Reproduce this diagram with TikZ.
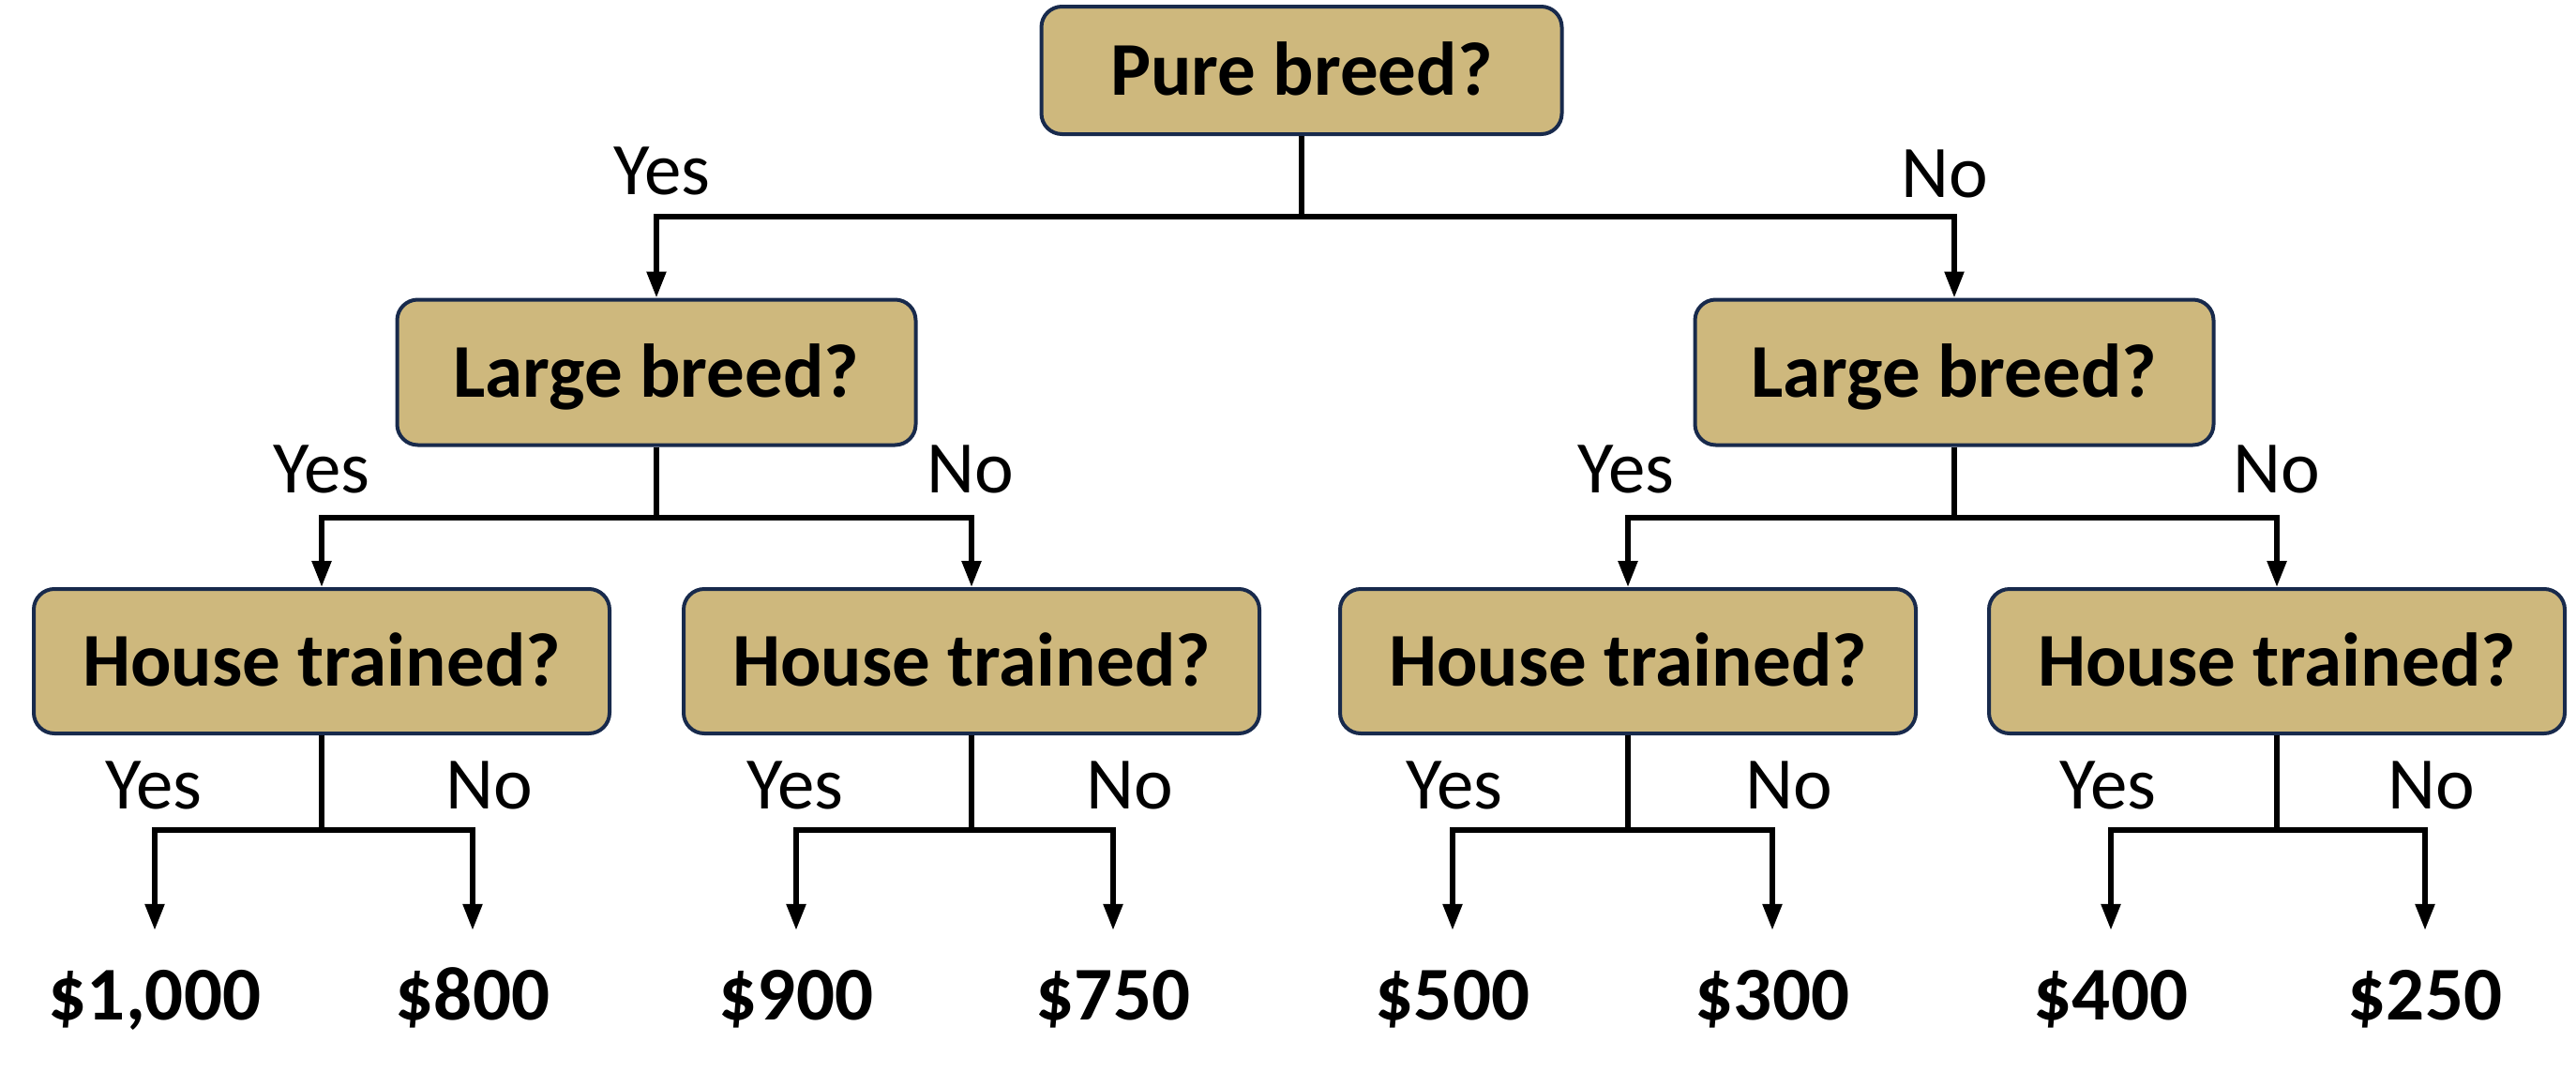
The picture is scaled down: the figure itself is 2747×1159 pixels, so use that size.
\documentclass[tikz,border=0pt]{standalone}
\usepackage{fontspec}
\setmainfont{Carlito}
\usetikzlibrary{arrows.meta}
\definecolor{boxfill}{RGB}{206,184,125}
\definecolor{boxline}{RGB}{24,42,76}
\begin{document}
\begin{tikzpicture}[x=1pt,y=-1pt,
  qbox/.style={draw=boxline, line width=4pt, fill=boxfill, rounded corners=22pt,
    inner sep=0pt, text height=52pt, text depth=0pt,
    font=\fontsize{81}{97}\selectfont\bfseries},
  lbl/.style={anchor=base, inner sep=0pt, font=\fontsize{79}{95}\selectfont},
  leaf/.style={anchor=base, inner sep=0pt, text height=52pt, text depth=0pt,
    font=\fontsize{81}{97}\selectfont\bfseries},
  link/.style={line width=5.5pt},
  arr/.style={line width=5.5pt, -{Triangle[length=28pt,width=20pt]}},
  leafarr/.style={arr, shorten >=43pt}]
\useasboundingbox (0,0) rectangle (2747,1159);

% question boxes
\node[qbox, minimum width=555pt, minimum height=136pt] (root) at (1388,75) {Pure breed?};
\node[qbox, minimum width=553pt, minimum height=155pt] (L) at (700,397) {Large breed?};
\node[qbox, minimum width=553pt, minimum height=155pt] (R) at (2084,397) {Large breed?};
\node[qbox, minimum width=614pt, minimum height=154pt] (H1) at (343,705) {House trained?};
\node[qbox, minimum width=614pt, minimum height=154pt] (H2) at (1036,705) {House trained?};
\node[qbox, minimum width=614pt, minimum height=154pt] (H3) at (1736,705) {House trained?};
\node[qbox, minimum width=614pt, minimum height=154pt] (H4) at (2428,705) {House trained?};

% leaves
\node[leaf] (v1) at (165,1087) {\$1,000};
\node[leaf] (v2) at (504,1087) {\$800};
\node[leaf] (v3) at (849,1087) {\$900};
\node[leaf] (v4) at (1187,1087) {\$750};
\node[leaf] (v5) at (1549,1087) {\$500};
\node[leaf] (v6) at (1890,1087) {\$300};
\node[leaf] (v7) at (2251,1087) {\$400};
\node[leaf] (v8) at (2586,1087) {\$250};

% junctions
\coordinate (j0) at (1388,231);
\coordinate (jL) at (700,552);
\coordinate (jR) at (2084,552);
\coordinate (j1) at (343,885);
\coordinate (j2) at (1036,885);
\coordinate (j3) at (1736,885);
\coordinate (j4) at (2428,885);

% connectors
\draw[link] (root.south) -- (j0);
\draw[arr] (j0) -| (L.north);
\draw[arr] (j0) -| (R.north);

\draw[link] (L.south) -- (jL);
\draw[arr] (jL) -| (H1.north);
\draw[arr] (jL) -| (H2.north);
\draw[link] (R.south) -- (jR);
\draw[arr] (jR) -| (H3.north);
\draw[arr] (jR) -| (H4.north);

\draw[link] (H1.south) -- (j1);
\draw[leafarr] (j1) -| (v1.north);
\draw[leafarr] (j1) -| (v2.north);
\draw[link] (H2.south) -- (j2);
\draw[leafarr] (j2) -| (v3.north);
\draw[leafarr] (j2) -| (v4.north);
\draw[link] (H3.south) -- (j3);
\draw[leafarr] (j3) -| (v5.north);
\draw[leafarr] (j3) -| (v6.north);
\draw[link] (H4.south) -- (j4);
\draw[leafarr] (j4) -| (v7.north);
\draw[leafarr] (j4) -| (v8.north);

% branch labels
\node[lbl] (y0) at (706,207) {Yes};
\node[lbl] (n0) at (2074,210) {No};
\node[lbl] (yL) at (343,525) {Yes};
\node[lbl] (nL) at (1035,525) {No};
\node[lbl] (yR) at (1734,525) {Yes};
\node[lbl] (nR) at (2428,525) {No};
\node[lbl] (y1) at (164,862) {Yes};
\node[lbl] (n1) at (522,862) {No};
\node[lbl] (y2) at (848,862) {Yes};
\node[lbl] (n2) at (1205,862) {No};
\node[lbl] (y3) at (1551,862) {Yes};
\node[lbl] (n3) at (1908,862) {No};
\node[lbl] (y4) at (2248,862) {Yes};
\node[lbl] (n4) at (2593,862) {No};
\end{tikzpicture}
\end{document}
